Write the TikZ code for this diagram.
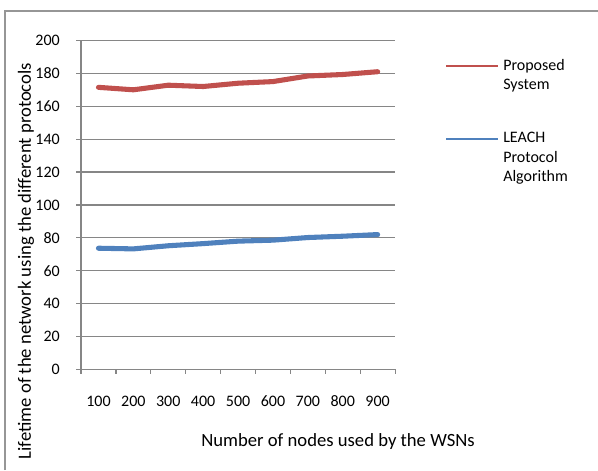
\documentclass[tikz,border=0pt]{standalone}
\usepackage{fontspec}
\setmainfont{Carlito}
\definecolor{gridgray}{RGB}{134,134,134}
\definecolor{framegray}{RGB}{150,150,150}
\definecolor{propred}{RGB}{192,80,77}
\definecolor{leachblue}{RGB}{79,129,189}
\tikzset{
  gridline/.style={gridgray,line width=0.9pt},
  series/.style={line width=3.8pt,line cap=round,line join=round},
  keyline/.style={line width=1.8pt},
  lbl/.style={inner sep=0pt,font=\fontsize{12}{14.6}\selectfont},
  title/.style={inner sep=0pt,font=\fontsize{14}{17}\selectfont}
}
\begin{document}
\begin{tikzpicture}[x=0.75pt,y=-0.75pt]
  \useasboundingbox (0,0) rectangle (598,470);
  % outer frame (cut off at right and bottom)
  \draw[framegray,line width=1.5pt] (5,470) -- (5,11) -- (598,11);
  % plot area: one unit per category, one unit per lifetime step
  \begin{scope}[xshift=60.75pt,yshift=-277.1pt,x=26.175pt,y=1.2338pt]
    \foreach \v in {20,40,...,200}
      \draw[gridline] (0,\v) -- (9,\v);
    \foreach \v in {0,20,...,200} {
      \draw[gridline] (-0.14,\v) -- (0,\v);
      \node[lbl,anchor=east] (ytick\v) at (-0.6,\v) {\v};
    }
    \draw[gridline] (0,200) -- (0,0) -- (9,0);
    \foreach \i in {0,...,9}
      \draw[gridline] (\i,0) -- (\i,-3);
    \foreach \n [count=\i] in {100,200,...,900}
      \node[lbl] (xtick\n) at (\i-0.5,-19.1) {\n};
    % the two protocols
    \draw[propred,series] plot coordinates {(0.5,171.5) (1.5,170) (2.5,172.8)
      (3.5,172) (4.5,174) (5.5,175) (6.5,178.4) (7.5,179.3) (8.5,181)};
    \draw[leachblue,series] plot coordinates {(0.5,73.7) (1.5,73.3) (2.5,75.2)
      (3.5,76.5) (4.5,78) (5.5,78.6) (6.5,80.2) (7.5,81) (8.5,82)};
  \end{scope}
  % axis titles
  \node[title] (xtitle) at (338,442) {Number of nodes used by the WSNs};
  \node[title,rotate=90] (ytitle) at (26,261)
    {Lifetime of the network using the different protocols};
  % legend
  \draw[propred,keyline] (446,66) -- (498,66);
  \node[lbl,anchor=north west,align=left] (keyprop) at (503,59)
    {Proposed\\System};
  \draw[leachblue,keyline] (446,139) -- (498,139);
  \node[lbl,anchor=north west,align=left] (keyleach) at (503,132)
    {LEACH\\Protocol\\Algorithm};
\end{tikzpicture}
\end{document}
